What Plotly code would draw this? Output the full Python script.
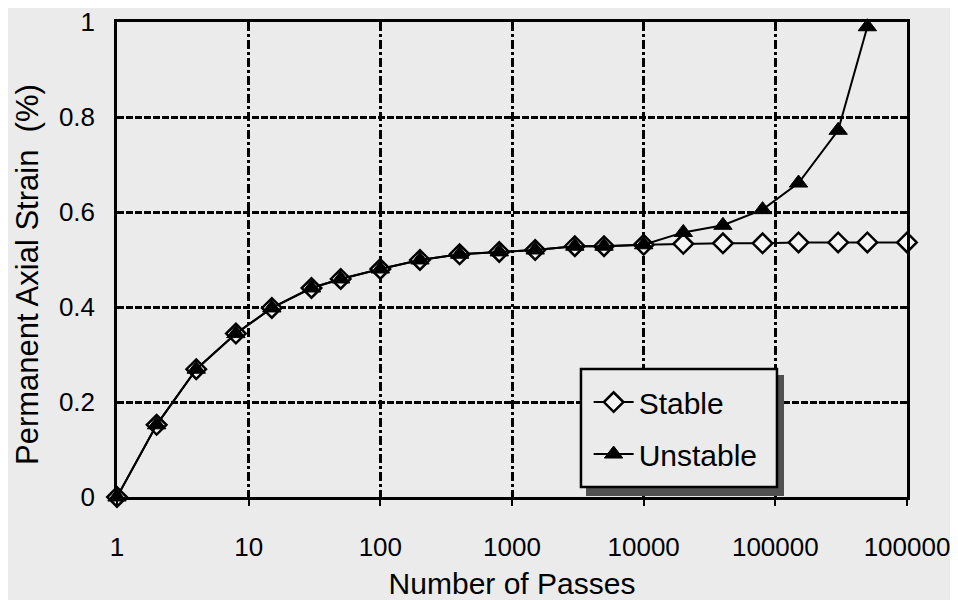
import plotly.graph_objects as go

# Number of passes (x) and permanent axial strain (%) values
passes = [1, 2, 4, 8, 15, 30, 50, 100, 200, 400, 800, 1500, 3000, 5000,
          10000, 20000, 40000, 80000, 150000, 300000, 500000, 1000000]
stable = [0.0, 0.152, 0.269, 0.344, 0.398, 0.44, 0.459, 0.48, 0.499, 0.511,
          0.516, 0.52, 0.528, 0.528, 0.531, 0.533, 0.534, 0.534, 0.536,
          0.536, 0.536, 0.536]
unstable_passes = passes[:-1]
unstable = [0.0, 0.152, 0.269, 0.344, 0.398, 0.44, 0.459, 0.48, 0.499, 0.511,
            0.516, 0.52, 0.528, 0.528, 0.531, 0.557, 0.572, 0.605, 0.661,
            0.772, 0.99]

x_tickvals = [1, 10, 100, 1000, 10000, 100000, 1000000]
x_ticktext = ["1", "10", "100", "1000", "10000", "100000", "100000"]
y_tickvals = [0, 0.2, 0.4, 0.6, 0.8, 1]
y_ticktext = ["0", "0.2", "0.4", "0.6", "0.8", "1"]

BG = "#ebebeb"
FONT = "Liberation Sans, Arial, sans-serif"

fig = go.Figure()
fig.add_trace(go.Scatter(
    x=passes, y=stable, name="Stable", mode="lines+markers",
    legendgroup="a", cliponaxis=False,
    line=dict(color="black", width=2),
    marker=dict(symbol="diamond", size=15, color="#f4f4f4",
                line=dict(color="black", width=2.5)),
))
fig.add_trace(go.Scatter(
    x=unstable_passes, y=unstable, name="Unstable", mode="lines+markers",
    legendgroup="b", cliponaxis=False,
    line=dict(color="black", width=2),
    marker=dict(symbol="triangle-up", size=16, color="black",
                line=dict(color="black", width=1)),
))

# legend drop shadow and frame (paper coordinates)
fig.add_shape(type="rect", xref="paper", yref="paper",
              x0=0.5937, x1=0.8443, y0=0.002, y1=0.2568,
              fillcolor="#505050", line=dict(width=0), layer="above")
fig.add_shape(type="rect", xref="paper", yref="paper",
              x0=0.5873, x1=0.8354, y0=0.0211, y1=0.2695,
              fillcolor=BG, line=dict(color="black", width=2.5),
              layer="above")

# y-axis title (placed as in the reference, slightly below centre)
fig.add_annotation(text="Permanent Axial Strain  (%)", textangle=-90,
                   xref="paper", yref="paper", x=-0.1127, y=0.4695,
                   xanchor="center", yanchor="middle", showarrow=False,
                   font=dict(family=FONT, size=31, color="black"))

fig.update_layout(
    width=950, height=592,
    margin=dict(l=109, r=51, t=14, b=103),
    paper_bgcolor=BG, plot_bgcolor=BG,
    font=dict(family=FONT, size=26, color="black"),
    showlegend=True,
    legend=dict(x=0.597, y=0.2547, xanchor="left", yanchor="top",
                bgcolor="rgba(0,0,0,0)", borderwidth=0,
                font=dict(size=30), tracegroupgap=10,
                traceorder="grouped", itemwidth=40),
    xaxis=dict(
        type="log", range=[0, 6], automargin=False,
        tickvals=x_tickvals, ticktext=x_ticktext,
        ticklabeloverflow="allow",
        showgrid=True, gridcolor="black", gridwidth=2.5,
        griddash="9px,3px,3px,3px",
        showline=True, linecolor="black", linewidth=2.5, mirror=True,
        ticks="outside", ticklen=6, tickcolor="black", tickwidth=2,
        ticklabelstandoff=19,
        title=dict(text="Number of Passes", standoff=16,
                   font=dict(size=30)),
        zeroline=False,
    ),
    yaxis=dict(
        range=[0, 1], automargin=False,
        tickvals=y_tickvals, ticktext=y_ticktext,
        ticklabeloverflow="allow",
        showgrid=True, gridcolor="black", gridwidth=2.5,
        griddash="7px,2px",
        showline=True, linecolor="black", linewidth=2.5, mirror=True,
        ticks="", ticklabelstandoff=14,
        zeroline=False,
    ),
)

fig.write_html("out.html")
